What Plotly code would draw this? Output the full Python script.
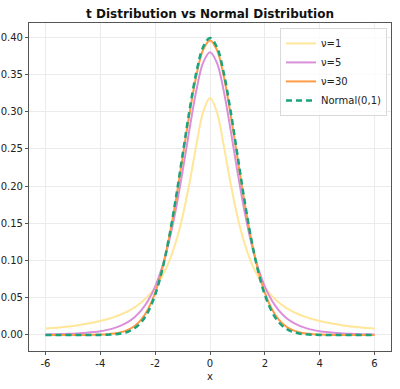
import plotly.graph_objects as go

x_vals = [-6.0, -5.75, -5.5, -5.25, -5.0, -4.75, -4.5, -4.25, -4.0, -3.75, -3.5, -3.25, -3.0, -2.75, -2.5, -2.25,
          -2.0, -1.75, -1.5, -1.25, -1.0, -0.75, -0.5, -0.25, 0.0, 0.25, 0.5, 0.75, 1.0, 1.25, 1.5, 1.75,
          2.0, 2.25, 2.5, 2.75, 3.0, 3.25, 3.5, 3.75, 4.0, 4.25, 4.5, 4.75, 5.0, 5.25, 5.5, 5.75, 6.0]

t1_vals = [0.0086, 0.0093, 0.0102, 0.0111, 0.0122, 0.0135, 0.0150, 0.0167, 0.0187, 0.0211, 0.0240, 0.0275,
           0.0318, 0.0372, 0.0439, 0.0525, 0.0637, 0.0784, 0.0979, 0.1242, 0.1592, 0.2037, 0.2546, 0.2996,
           0.3183,
           0.2996, 0.2546, 0.2037, 0.1592, 0.1242, 0.0979, 0.0784, 0.0637, 0.0525, 0.0439, 0.0372, 0.0318,
           0.0275, 0.0240, 0.0211, 0.0187, 0.0167, 0.0150, 0.0135, 0.0122, 0.0111, 0.0102, 0.0093, 0.0086]

t5_vals = [0.00069, 0.00086, 0.00108, 0.00137, 0.00176, 0.00227, 0.00295, 0.00387, 0.00512, 0.00685, 0.00924,
           0.0126, 0.0173, 0.0239, 0.0333, 0.0466, 0.0651, 0.0905, 0.1245, 0.1679, 0.2197, 0.2757, 0.3279,
           0.3657, 0.3796,
           0.3657, 0.3279, 0.2757, 0.2197, 0.1679, 0.1245, 0.0905, 0.0651, 0.0466, 0.0333, 0.0239, 0.0173,
           0.0126, 0.00924, 0.00685, 0.00512, 0.00387, 0.00295, 0.00227, 0.00176, 0.00137, 0.00108, 0.00086,
           0.00069]

t30_vals = [0.00000, 0.00001, 0.00001, 0.00002, 0.00003, 0.00007, 0.00013, 0.00027, 0.00052, 0.00102, 0.00196,
            0.00369, 0.00678, 0.0121, 0.0211, 0.0353, 0.0568, 0.0877, 0.1291, 0.1801, 0.2380, 0.2966, 0.3479,
            0.3831, 0.3956,
            0.3831, 0.3479, 0.2966, 0.2380, 0.1801, 0.1291, 0.0877, 0.0568, 0.0353, 0.0211, 0.0121, 0.00678,
            0.00369, 0.00196, 0.00102, 0.00052, 0.00027, 0.00013, 0.00007, 0.00003, 0.00002, 0.00001, 0.00001,
            0.00000]

norm_vals = [0.0, 0.0, 0.0, 0.0, 0.0, 0.0, 0.00002, 0.00005, 0.00013, 0.00035, 0.00087, 0.0020, 0.0044, 0.0091,
             0.0175, 0.0317, 0.0540, 0.0863, 0.1295, 0.1826, 0.2420, 0.3011, 0.3521, 0.3867, 0.3989,
             0.3867, 0.3521, 0.3011, 0.2420, 0.1826, 0.1295, 0.0863, 0.0540, 0.0317, 0.0175, 0.0091, 0.0044,
             0.0020, 0.00087, 0.00035, 0.00013, 0.00005, 0.00002, 0.0, 0.0, 0.0, 0.0, 0.0, 0.0]

series_names = ["ν=1", "ν=5", "ν=30", "Normal(0,1)"]
x_ticks = [-6, -4, -2, 0, 2, 4, 6]
y_ticks = [0.00, 0.05, 0.10, 0.15, 0.20, 0.25, 0.30, 0.35, 0.40]

fig = go.Figure()
fig.add_trace(go.Scatter(x=x_vals, y=t1_vals, mode="lines", name=series_names[0], line_shape="spline",
                         line=dict(color="#FFE699", width=2)))
fig.add_trace(go.Scatter(x=x_vals, y=t5_vals, mode="lines", name=series_names[1], line_shape="spline",
                         line=dict(color="#DA8FDA", width=2)))
fig.add_trace(go.Scatter(x=x_vals, y=t30_vals, mode="lines", name=series_names[2], line_shape="spline",
                         line=dict(color="#FF9A45", width=2)))
fig.add_trace(go.Scatter(x=x_vals, y=norm_vals, mode="lines", name=series_names[3], line_shape="spline",
                         line=dict(color="#1AA37D", width=2.5, dash="6px,4px")))

fig.update_layout(
    width=400, height=389,
    margin=dict(l=29, r=9, t=23, b=38),
    paper_bgcolor="white", plot_bgcolor="white",
    font=dict(family="DejaVu Sans", size=10, color="#222"),
    title=dict(text="<b>t Distribution vs Normal Distribution</b>", x=0.525, xanchor="center",
               y=0.964, yanchor="middle", font=dict(size=12, color="#111")),
    showlegend=True,
    legend=dict(x=0.989, y=0.985, xanchor="right", yanchor="top", bgcolor="rgba(255,255,255,0.8)",
                bordercolor="#d9d9d9", borderwidth=1, font=dict(size=10), tracegroupgap=0,
                itemwidth=30),
    xaxis=dict(range=[-6.6, 6.6], tickvals=x_ticks, ticktext=[str(v) for v in x_ticks],
               showgrid=True, gridcolor="#ebebeb", gridwidth=1, zeroline=False, automargin=False,
               showline=True, linecolor="#555", linewidth=1.2, mirror=True,
               ticks="outside", ticklen=3, tickcolor="#555",
               title=dict(text="x", standoff=4, font=dict(size=10))),
    yaxis=dict(range=[-0.0215, 0.419], tickvals=y_ticks, ticktext=[f"{v:.2f}" for v in y_ticks],
               showgrid=True, gridcolor="#ebebeb", gridwidth=1, zeroline=False, automargin=False,
               showline=True, linecolor="#555", linewidth=1.2, mirror=True,
               ticks="outside", ticklen=3, tickcolor="#555"),
)

fig.write_html("out.html", config={"displayModeBar": False},
               post_script="document.body.style.margin='0';document.body.style.overflow='hidden';")
